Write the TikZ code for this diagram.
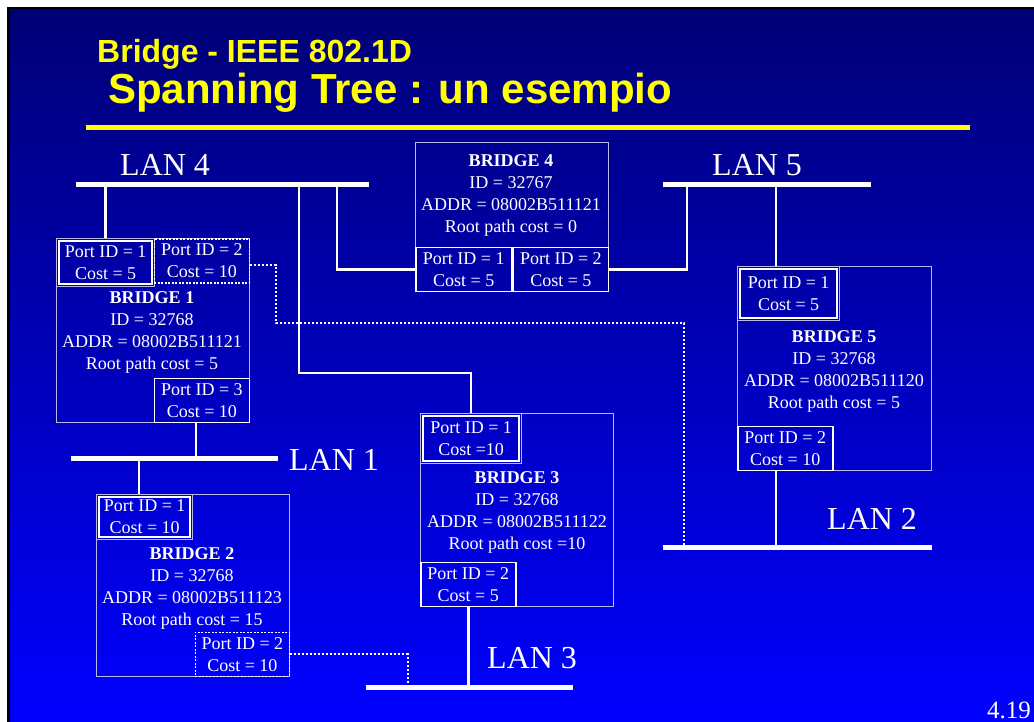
\documentclass[tikz,border=0pt]{standalone}
\usepackage{fontspec}
\setmainfont{Liberation Serif}
\setsansfont{Liberation Sans}
\usetikzlibrary{positioning}
\definecolor{bgtop}{RGB}{0,0,118}
\definecolor{bgbot}{RGB}{0,0,255}
\definecolor{boxline}{RGB}{185,185,235}
\definecolor{titleyellow}{RGB}{255,255,0}

\begin{document}
\begin{tikzpicture}[x=1pt,y=-1pt,
 bridge/.style={draw=boxline,line width=1.2pt,anchor=north west,inner sep=0pt,minimum width=193pt},
 port/.style={draw=white,line width=1.6pt,anchor=north west,inner sep=0pt,minimum width=95pt,minimum height=44pt,align=center,text=white,font=\fontsize{18}{22}\selectfont},
 dport/.style={port,draw=boxline,line width=1.2pt},
 dotport/.style={port,dash pattern=on 2pt off 1.5pt},
 portline/.style={white,line width=1.6pt},
 info/.style={align=center,text=white,font=\fontsize{18}{22}\selectfont},
 lan/.style={white,line width=5pt},
 lanlabel/.style={text=white,font=\fontsize{32}{36}\selectfont,inner sep=0pt,anchor=base west},
 link/.style={white,line width=2.4pt},
 dotlink/.style={white,line width=2pt,dash pattern=on 2pt off 2pt}]
\useasboundingbox (0,0) rectangle (1034,722);
\fill[black] (7,7) rectangle (1034,722);
\shade[top color=bgtop,bottom color=bgbot] (10,10) rectangle (1034,722);

\node[anchor=base west,inner sep=0pt,text=titleyellow,font=\sffamily\bfseries\fontsize{32}{38}\selectfont] (sub) at (97,63) {Bridge - IEEE 802.1D};
\node[anchor=base west,inner sep=0pt,text=titleyellow,font=\sffamily\bfseries\fontsize{42}{48}\selectfont] (title) at (108,104) {Spanning Tree : un esempio};
\draw[titleyellow,line width=5pt] (86,127.5) -- (970,127.5);
\node[anchor=base east,inner sep=0pt,text=white,font=\fontsize{25}{30}\selectfont] (page) at (1031,718) {4.19};

\coordinate (lan4w) at (76,185);  \coordinate (lan4e) at (369,185);
\coordinate (lan5w) at (663,185); \coordinate (lan5e) at (871,185);
\coordinate (lan1w) at (71,458);  \coordinate (lan1e) at (278,458);
\coordinate (lan2w) at (663,547); \coordinate (lan2e) at (932,547);
\coordinate (lan3w) at (366,687); \coordinate (lan3e) at (573,687);
\draw[lan] (lan4w) -- (lan4e);
\draw[lan] (lan5w) -- (lan5e);
\draw[lan] (lan1w) -- (lan1e);
\draw[lan] (lan2w) -- (lan2e);
\draw[lan] (lan3w) -- (lan3e);
\node[lanlabel] (lan4lbl) at (120,176) {LAN 4};
\node[lanlabel] (lan5lbl) at (712,176) {LAN 5};
\node[lanlabel] (lan1lbl) at (289,470) {LAN 1};
\node[lanlabel] (lan2lbl) at (827,529) {LAN 2};
\node[lanlabel] (lan3lbl) at (487,668) {LAN 3};

\node[bridge,minimum height=184pt] (b1) at (56,238) {};
\node[dport,minimum width=98pt,minimum height=48pt] (b1p1) at (b1.north west) {Port ID = 1\\Cost = 5};
\node[dotport,anchor=north east] (b1p2) at (b1.north east) {Port ID = 2\\Cost = 10};
\node[port,anchor=south east] (b1p3) at (b1.south east) {Port ID = 3\\Cost = 10};
\node[info] (b1txt) at (152,332) {\textbf{BRIDGE 1}\\ID = 32768\\ADDR = 08002B511121\\Root path cost = 5};

\node[bridge,minimum height=149pt] (b4) at (415,142) {};
\node[port,minimum width=96pt,anchor=south west] (b4p1) at (b4.south west) {Port ID = 1\\Cost = 5};
\node[port,anchor=south east] (b4p2) at (b4.south east) {Port ID = 2\\Cost = 5};
\node[info] (b4txt) at (511,195) {\textbf{BRIDGE 4}\\ID = 32767\\ADDR = 08002B511121\\Root path cost = 0};

\node[bridge,minimum width=194pt,minimum height=204pt] (b5) at (737,266) {};
\node[dport,minimum width=102pt,minimum height=54pt] (b5p1) at (b5.north west) {Port ID = 1\\Cost = 5};
\node[port,anchor=south west] (b5p2) at (b5.south west) {Port ID = 2\\Cost = 10};
\node[info] (b5txt) at (834,371) {\textbf{BRIDGE 5}\\ID = 32768\\ADDR = 08002B511120\\Root path cost = 5};

\node[bridge,minimum height=193pt] (b3) at (420,413) {};
\node[dport,minimum width=101pt,minimum height=50pt] (b3p1) at (b3.north west) {Port ID = 1\\Cost =10};
\node[port,anchor=south west] (b3p2) at (b3.south west) {Port ID = 2\\Cost = 5};
\node[info] (b3txt) at (517,512) {\textbf{BRIDGE 3}\\ID = 32768\\ADDR = 08002B511122\\Root path cost =10};

\node[bridge,minimum height=182pt] (b2) at (96,494) {};
\node[dport,minimum width=96pt,minimum height=45pt] (b2p1) at (b2.north west) {Port ID = 1\\Cost = 10};
\node[dotport,minimum width=94pt,anchor=south east] (b2p2) at (b2.south east) {Port ID = 2\\Cost = 10};
\node[info] (b2txt) at (192,588) {\textbf{BRIDGE 2}\\ID = 32768\\ADDR = 08002B511123\\Root path cost = 15};

\foreach \p in {b1p1,b2p1,b3p1,b5p1}
  \draw[portline] ([shift={(3,3)}]\p.north west) rectangle ([shift={(-3,-3)}]\p.south east);

\coordinate (tapB) at (299,185);
\coordinate (tapC) at (337,185);
\coordinate (tapD) at (687,185);
\coordinate (tapE) at (776,185);
\coordinate (tapF) at (776,547);
\coordinate (tapG) at (196,458);
\coordinate (tapH) at (139,458);
\coordinate (tapI) at (684,547);
\coordinate (tapJ) at (408,687);
\coordinate (bendD) at (276,323);
\draw[link] (b1p1.north) -- (b1p1.north |- lan4w);
\draw[link] (tapB) |- ([yshift=40pt]b3p1.north) -- (b3p1.north);
\draw[link] (tapC) |- (b4p1.west);
\draw[link] (tapD) |- (b4p2.east);
\draw[link] (tapE) -- (tapE |- b5p1.north);
\draw[link] (tapF |- b5p2.south) -- (tapF);
\draw[link] (tapG |- b1p3.south) -- (tapG);
\draw[link] (tapH) -- (tapH |- b2p1.north);
\draw[link] (b3p2.south) -- (b3p2.south |- lan3w);
\draw[dotlink] ([yshift=-4pt]b1p2.east) -| (bendD) -| (tapI);
\draw[dotlink] (b2p2.east) -| (tapJ);
\end{tikzpicture}
\end{document}
